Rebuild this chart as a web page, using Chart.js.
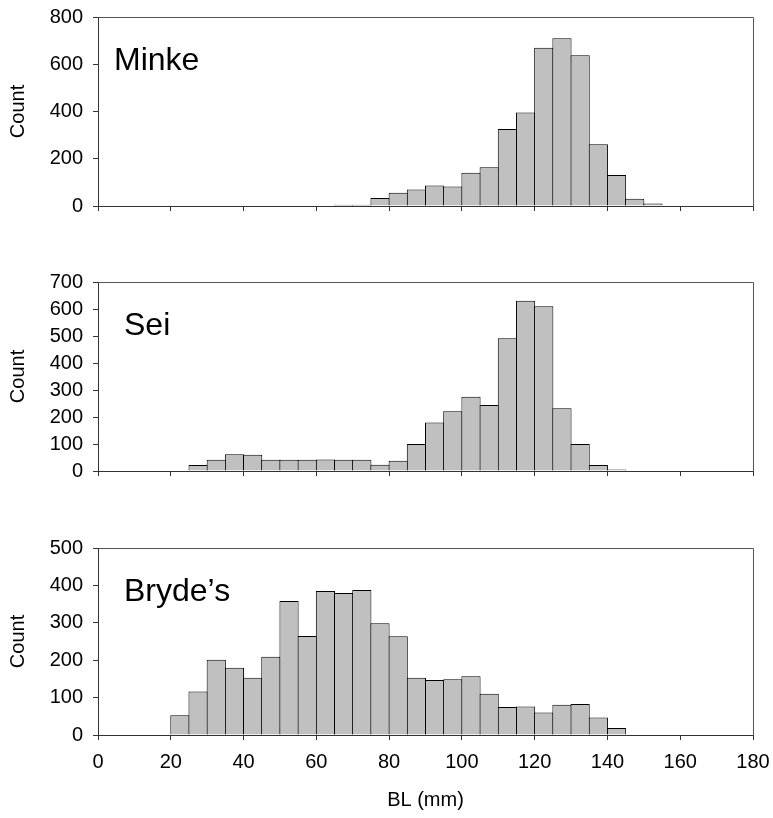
<!DOCTYPE html>
<html>
<head>
<meta charset="utf-8">
<script src="https://cdn.jsdelivr.net/npm/chart.js@4.4.1/dist/chart.umd.min.js"></script>
<style>
  html, body { margin: 0; padding: 0; background: #fff; }
  #wrap { position: relative; width: 773px; height: 818px; }
  canvas { position: absolute; left: 0; }
</style>
</head>
<body>
<div id="wrap">
  <canvas id="minke" width="773" height="230" style="top:0px"></canvas>
  <canvas id="sei" width="773" height="235" style="top:260px"></canvas>
  <canvas id="bryde" width="773" height="288" style="top:530px"></canvas>
</div>
<script>
// lower edge of each 5 mm bin
const binEdges = [0, 5, 10, 15, 20, 25, 30, 35, 40, 45, 50, 55, 60, 65, 70, 75, 80, 85,
  90, 95, 100, 105, 110, 115, 120, 125, 130, 135, 140, 145, 150, 155, 160, 165, 170, 175];
const binWidth = 5;

const minkeCounts = [0, 0, 0, 0, 0, 0, 0, 0, 0, 0, 0, 0, 0, 5, 5, 34, 56, 70,
  87, 83, 141, 164, 326, 396, 670, 710, 638, 261, 131, 31, 11, 0, 0, 0, 0, 0];
const seiCounts = [0, 0, 0, 0, 0, 22, 42, 62, 60, 42, 42, 42, 43, 42, 42, 23, 38, 100,
  180, 221, 275, 244, 492, 631, 610, 232, 100, 22, 6, 0, 0, 0, 0, 0, 0, 0];
const brydeCounts = [0, 0, 0, 0, 53, 116, 201, 180, 153, 209, 358, 265, 385, 380, 388, 299, 264, 153,
  147, 149, 157, 110, 75, 76, 60, 81, 83, 47, 19, 0, 0, 0, 0, 0, 0, 0];

const xTicks = [0, 20, 40, 60, 80, 100, 120, 140, 160, 180];
const xTitle = "BL (mm)";
const yTitle = "Count";

const FONT = "'Liberation Sans', Arial, sans-serif";

// box on top and right, species name inside the plot
const panelDecor = {
  id: "panelDecor",
  afterDraw(chart, args, opts) {
    const { ctx, chartArea } = chart;
    ctx.save();
    ctx.strokeStyle = "#555";
    ctx.lineWidth = 1;
    ctx.beginPath();
    ctx.moveTo(Math.round(chartArea.left) + 0.5, Math.round(chartArea.top) + 0.5);
    ctx.lineTo(Math.round(chartArea.right) + 0.5, Math.round(chartArea.top) + 0.5);
    ctx.lineTo(Math.round(chartArea.right) + 0.5, Math.round(chartArea.bottom) + 0.5);
    ctx.stroke();
    ctx.fillStyle = "#000";
    ctx.font = "32px " + FONT;
    ctx.textBaseline = "alphabetic";
    ctx.fillText(opts.name, chartArea.left + opts.dx, chartArea.top + 53);
    ctx.restore();
  }
};

function makePanel(id, counts, name, nameDx, yMax, yStep, topPad, xHeight, bottomAxis) {
  const points = binEdges.map((e, i) => ({ x: e + binWidth / 2, y: counts[i] }));
  return new Chart(document.getElementById(id), {
    type: "bar",
    data: {
      datasets: [{
        data: points,
        backgroundColor: "#c0c0c0",
        borderColor: "#000",
        borderWidth: 1,
        barPercentage: 1.055,
        categoryPercentage: 1
      }]
    },
    options: {
      responsive: false,
      animation: false,
      devicePixelRatio: 1,
      layout: { padding: { top: topPad, right: 20, left: 0, bottom: 0 } },
      plugins: {
        legend: { display: false },
        tooltip: { enabled: false },
        panelDecor: { name: name, dx: nameDx }
      },
      scales: {
        x: {
          type: "linear",
          min: 0,
          max: 180,
          offset: false,
          afterBuildTicks: (s) => { s.ticks = xTicks.map(v => ({ value: v })); },
          afterFit: (s) => { s.height = xHeight; s.paddingLeft = 0; s.paddingRight = 0; },
          grid: { offset: false, drawOnChartArea: false, drawTicks: true, tickLength: 5, color: "#333" },
          border: { display: true, color: "#333" },
          ticks: { display: bottomAxis, color: "#000", padding: 10, maxRotation: 0, autoSkip: false,
            font: { family: FONT, size: 20 } },
          title: { display: bottomAxis, text: xTitle, color: "#000",
            font: { family: FONT, size: 20 }, padding: { top: 0, bottom: 6 } }
        },
        y: {
          min: 0,
          max: yMax,
          afterFit: (s) => { s.width = 98; s.paddingTop = 0; s.paddingBottom = 0; },
          grid: { drawOnChartArea: false, drawTicks: true, tickLength: 5, color: "#333" },
          border: { display: true, color: "#333" },
          ticks: { stepSize: yStep, color: "#000", padding: 10, font: { family: FONT, size: 20 } },
          title: { display: true, text: yTitle, color: "#000",
            font: { family: FONT, size: 20 }, padding: { top: 6, bottom: 0 } }
        }
      }
    },
    plugins: [panelDecor]
  });
}

makePanel("minke", minkeCounts, "Minke", 16, 800, 200, 17, 24, false);
makePanel("sei", seiCounts, "Sei", 26, 700, 100, 22, 24, false);
makePanel("bryde", brydeCounts, "Bryde\u2019s", 26, 500, 100, 18, 83, true);
</script>
</body>
</html>
